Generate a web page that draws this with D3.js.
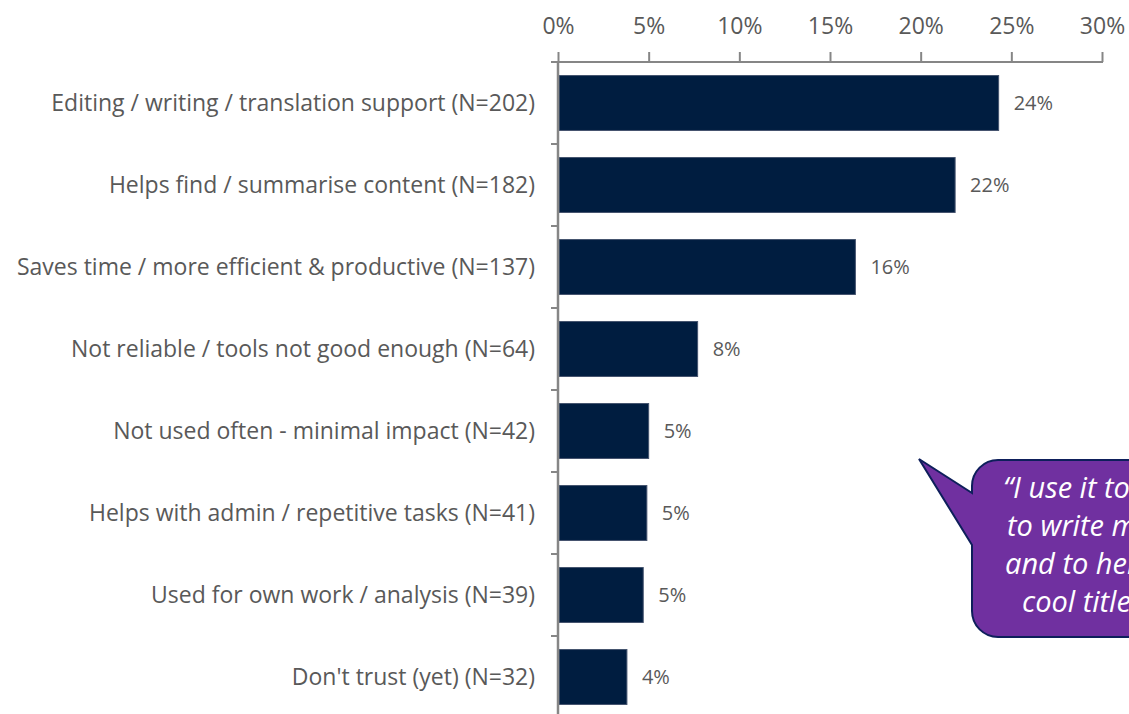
<!DOCTYPE html>
<html>
<head>
<meta charset="utf-8">
<script src="https://cdn.jsdelivr.net/npm/d3@7"></script>
<style>
  html, body { margin: 0; padding: 0; background: #fff; overflow: hidden; }
  svg { display: block; }
  text { font-family: "Open Sans", "Noto Sans", sans-serif; }
</style>
</head>
<body>
<svg id="chart" width="1129" height="714"></svg>
<script>
// Reasons given for the impact of AI tools (share of all coded responses)
const categories = [
  "Editing / writing / translation support (N=202)",
  "Helps find / summarise content (N=182)",
  "Saves time / more efficient & productive (N=137)",
  "Not reliable / tools not good enough (N=64)",
  "Not used often - minimal impact (N=42)",
  "Helps with admin / repetitive tasks (N=41)",
  "Used for own work / analysis (N=39)",
  "Don't trust (yet) (N=32)"
];
const shares = [0.243, 0.219, 0.164, 0.077, 0.050, 0.049, 0.047, 0.038];
const xTicks = [0, 0.05, 0.10, 0.15, 0.20, 0.25, 0.30];
const quoteLines = [
  "\u201CI use it to summarise",
  "to write more quickly",
  "and to help think of",
  "cool titles\u201D"
];

const svg = d3.select("#chart");
const axisGrey = "#868686";
const textGrey = "#595959";
const barFill = "#001D40";

const x = d3.scaleLinear().domain([0, 0.30]).range([558, 1102]);
const y = d3.scaleBand().domain(categories).range([62, 718])
  .paddingInner(0.33).paddingOuter(0.165);

// Top percentage axis
const xAxis = d3.axisTop(x).tickValues(xTicks)
  .tickFormat(d3.format(".0%")).tickSizeInner(10).tickSizeOuter(0).tickPadding(18);
const gx = svg.append("g").attr("transform", "translate(0,62)").call(xAxis);
gx.select(".domain").remove();
gx.append("line").attr("x1", 551).attr("x2", 1103).attr("y1", 0).attr("y2", 0)
  .attr("stroke", axisGrey).attr("stroke-width", 2);
gx.selectAll(".tick line").attr("stroke", axisGrey).attr("stroke-width", 2);
gx.selectAll(".tick text").attr("fill", textGrey)
  .style("font-size", "23px").style("font-family", "'Open Sans', sans-serif");

// Bars
svg.append("g").selectAll("rect").data(categories).join("rect")
  .attr("x", x(0) + 1)
  .attr("y", d => y(d))
  .attr("width", (d, i) => x(shares[i]) - x(0) - 1)
  .attr("height", y.bandwidth())
  .attr("fill", barFill)
  .attr("stroke", "#44536e").attr("stroke-width", 1);

// Left category axis with boundary ticks
const gy = svg.append("g");
gy.append("line").attr("x1", 558).attr("x2", 558).attr("y1", 62).attr("y2", 714)
  .attr("stroke", axisGrey).attr("stroke-width", 2.5);
const step = y.step();
gy.selectAll("line.bt").data(d3.range(1, categories.length)).join("line")
  .attr("class", "bt")
  .attr("x1", 551).attr("x2", 558)
  .attr("y1", i => 62 + i * step).attr("y2", i => 62 + i * step)
  .attr("stroke", axisGrey).attr("stroke-width", 2);

// Category labels
svg.append("g").selectAll("text").data(categories).join("text")
  .attr("x", 535)
  .attr("y", d => y(d) + y.bandwidth() / 2)
  .attr("dy", "0.35em")
  .attr("text-anchor", "end")
  .attr("fill", textGrey)
  .style("font-size", "23px")
  .text(d => d);

// Value labels
svg.append("g").selectAll("text").data(categories).join("text")
  .attr("x", (d, i) => x(shares[i]) + 15)
  .attr("y", d => y(d) + y.bandwidth() / 2)
  .attr("dy", "0.35em")
  .attr("fill", textGrey)
  .style("font-size", "20px")
  .text((d, i) => d3.format(".0%")(shares[i]));

// Speech-bubble quote
const bx = 972, by = 460, bw = 320, bh = 177, r = 26;
const bubble = d3.path();
bubble.moveTo(bx + r, by);
bubble.lineTo(bx + bw - r, by);
bubble.arcTo(bx + bw, by, bx + bw, by + r, r);
bubble.lineTo(bx + bw, by + bh - r);
bubble.arcTo(bx + bw, by + bh, bx + bw - r, by + bh, r);
bubble.lineTo(bx + r, by + bh);
bubble.arcTo(bx, by + bh, bx, by + bh - r, r);
bubble.lineTo(bx, 545);
bubble.lineTo(919, 459);
bubble.lineTo(bx, 493);
bubble.lineTo(bx, by + r);
bubble.arcTo(bx, by, bx + r, by, r);
bubble.closePath();
svg.append("path").attr("d", bubble.toString())
  .attr("fill", "#7030A0").attr("stroke", "#0E1F5B").attr("stroke-width", 2);

const lineStarts = [1003, 1007, 1005, 1022];
svg.append("g").selectAll("text").data(quoteLines).join("text")
  .attr("x", (d, i) => lineStarts[i])
  .attr("y", (d, i) => 498 + i * 38)
  .attr("fill", "#ffffff")
  .style("font-size", "29px")
  .style("font-style", "italic")
  .text(d => d);
</script>
</body>
</html>
